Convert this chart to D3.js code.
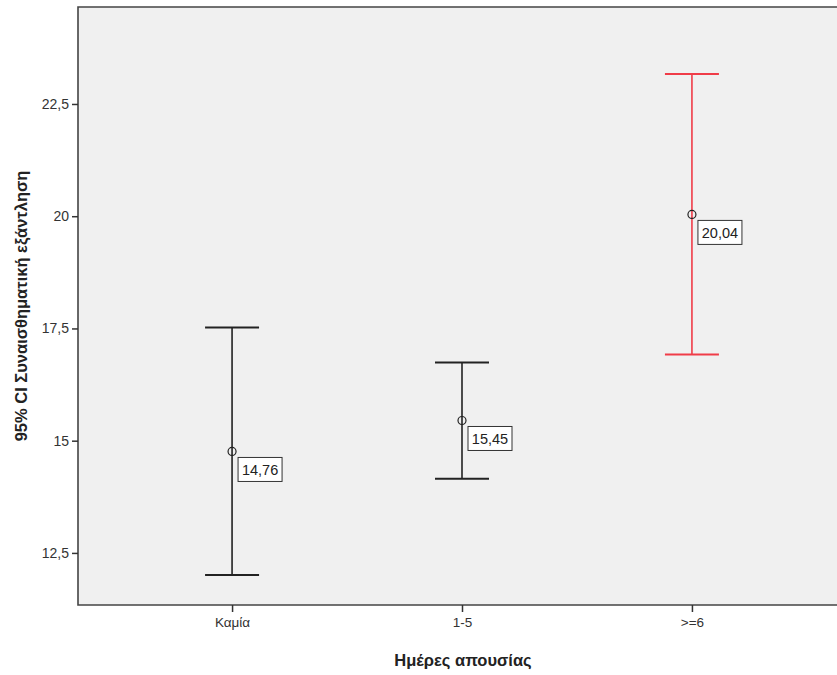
<!DOCTYPE html>
<html><head><meta charset="utf-8">
<script src="https://cdn.jsdelivr.net/npm/d3@7"></script>
<style>body{margin:0;background:#fff;}svg{display:block;font-family:Arial,"Liberation Sans",sans-serif;}</style>
</head><body>
<svg id="c" width="837" height="675"></svg>
<script>
const categories = ["Καμία", "1-5", ">=6"];
const means = [14.76, 15.45, 20.04];
const lower = [12.01, 14.15, 16.92];
const upper = [17.52, 16.74, 23.17];
const meanLabels = ["14,76", "15,45", "20,04"];
const colors = ["#222222", "#222222", "#f03c48"];
const yTicks = [12.5, 15, 17.5, 20, 22.5];
const yTickLabels = ["12,5", "15", "17,5", "20", "22,5"];
const xTitle = "Ημέρες απουσίας";
const yTitle = "95% CI Συναισθηματική εξάντληση";

const svg = d3.select("#c");
const L = 78, T = 7, B = 605, R = 846;
const y = d3.scaleLinear().domain([11.34, 24.66]).range([B, T]);
const x = d3.scalePoint().domain(categories).range([L, R]).padding(0.67);

svg.append("rect").attr("x", L).attr("y", T).attr("width", R - L).attr("height", B - T).attr("fill", "#f0f0f0");

// frame
svg.append("path").attr("d", `M${R},${T}H${L}V${B}H${R}`).attr("fill", "none").attr("stroke", "#444").attr("stroke-width", 1.6);

// y axis
const ya = svg.append("g").attr("transform", `translate(${L},0)`)
  .call(d3.axisLeft(y).tickValues(yTicks).tickFormat((d, i) => yTickLabels[i]).tickSize(6).tickPadding(3));
ya.select(".domain").remove();
ya.selectAll(".tick line").attr("stroke", "#333").attr("stroke-width", 1.5);
ya.selectAll(".tick text").attr("font-size", 14).attr("fill", "#333").attr("font-family", "Arial,'Liberation Sans',sans-serif");

// x axis
const xa = svg.append("g").attr("transform", `translate(0,${B})`)
  .call(d3.axisBottom(x).tickSize(7).tickPadding(5));
xa.select(".domain").remove();
xa.selectAll(".tick line").attr("stroke", "#333").attr("stroke-width", 1.5);
xa.selectAll(".tick text").attr("font-size", 13.5).attr("fill", "#333").attr("font-family", "Arial,'Liberation Sans',sans-serif");

// error bars
const g = svg.append("g");
categories.forEach((c, i) => {
  const cx = x(c);
  const col = colors[i];
  g.append("line").attr("x1", cx).attr("x2", cx).attr("y1", y(upper[i])).attr("y2", y(lower[i]))
    .attr("stroke", col).attr("stroke-width", 1.6);
  [upper[i], lower[i]].forEach(v => {
    g.append("line").attr("x1", cx - 27).attr("x2", cx + 27).attr("y1", y(v)).attr("y2", y(v))
      .attr("stroke", col).attr("stroke-width", 2);
  });
  g.append("circle").attr("cx", cx).attr("cy", y(means[i])).attr("r", 4)
    .attr("fill", "none").attr("stroke", "#222").attr("stroke-width", 1.2);
  const lx = cx + 6, ly = y(means[i]) + 6;
  g.append("rect").attr("x", lx).attr("y", ly).attr("width", 44).attr("height", 24)
    .attr("fill", "#fff").attr("stroke", "#333").attr("stroke-width", 1);
  g.append("text").attr("x", lx + 22).attr("y", ly + 17.5).attr("text-anchor", "middle")
    .attr("font-size", 14.5).attr("fill", "#222").text(meanLabels[i]);
});

// titles
svg.append("text").attr("x", 463).attr("y", 666).attr("text-anchor", "middle")
  .attr("font-size", 16.5).attr("font-weight", "bold").attr("fill", "#222").text(xTitle);
svg.append("text").attr("transform", `translate(27,${(T + B) / 2}) rotate(-90)`).attr("text-anchor", "middle")
  .attr("font-size", 16.5).attr("font-weight", "bold").attr("fill", "#222").text(yTitle);
</script>
</body></html>
